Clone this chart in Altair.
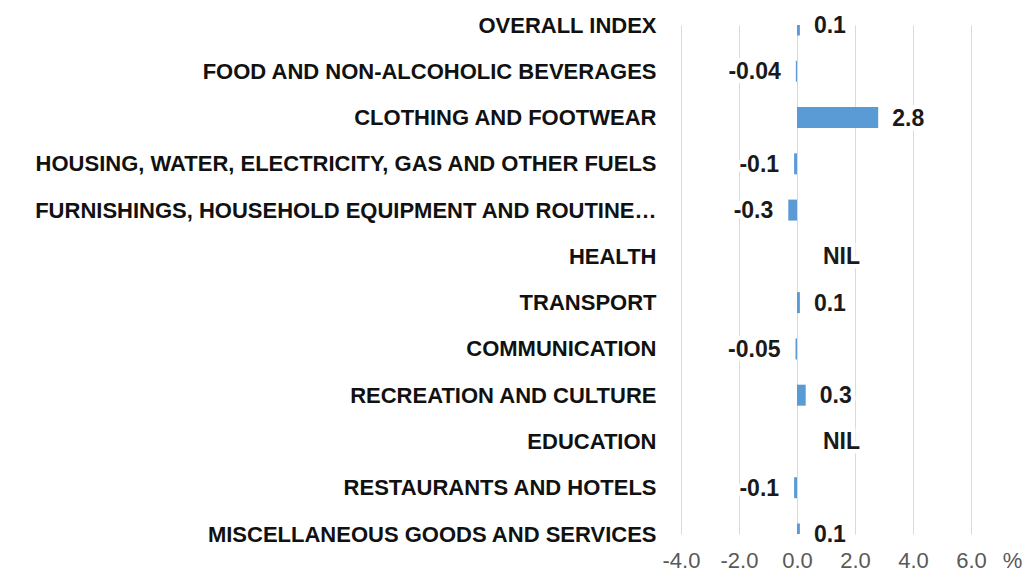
import altair as alt
import pandas as pd

categories = [
    "OVERALL INDEX",
    "FOOD AND NON-ALCOHOLIC BEVERAGES",
    "CLOTHING AND FOOTWEAR",
    "HOUSING, WATER, ELECTRICITY, GAS AND OTHER FUELS",
    "FURNISHINGS, HOUSEHOLD EQUIPMENT AND ROUTINE…",
    "HEALTH",
    "TRANSPORT",
    "COMMUNICATION",
    "RECREATION AND CULTURE",
    "EDUCATION",
    "RESTAURANTS AND HOTELS",
    "MISCELLANEOUS GOODS AND SERVICES",
]
values = [0.1, -0.04, 2.8, -0.1, -0.3, 0.0, 0.1, -0.05, 0.3, 0.0, -0.1, 0.1]
labels = ["0.1", "-0.04", "2.8", "-0.1", "-0.3", "NIL", "0.1", "-0.05", "0.3", "NIL", "-0.1", "0.1"]
x_ticks = [-4, -2, 0, 2, 4, 6]

df = pd.DataFrame({"cat": categories, "value": values, "label": labels})

FONT = "Liberation Sans"
BAR = "#5B9BD5"

y_enc = alt.Y(
    "cat:N",
    sort=categories,
    scale=alt.Scale(type="point", padding=0),
    axis=alt.Axis(
        title=None, domain=False, ticks=False, grid=False,
        labelFont=FONT, labelFontSize=22, labelFontWeight="bold",
        labelColor="#111111", labelPadding=25, labelLimit=800,
    ),
)
x_enc = alt.X(
    "value:Q",
    scale=alt.Scale(domain=[-4, 6], nice=False, zero=False),
    axis=alt.Axis(
        values=x_ticks, domain=False, ticks=False, grid=True,
        gridColor="#D9D9D9", gridWidth=1,
        labelExpr="(datum.value < 0 ? '-' : '') + format(abs(datum.value), '.1f')",
        labelFont=FONT, labelFontSize=22, labelColor="#595959", labelPadding=16,
        labelFlush=False, labelOverlap=False,
        title="%", titleFont=FONT, titleFontSize=22, titleFontWeight="normal",
        titleColor="#595959", titleX=331, titleY=16, titleAlign="center",
        titleBaseline="top", titleAngle=0,
    ),
)

base = alt.Chart(df)

bars = base.mark_bar(color=BAR, size=21, clip=True).encode(x=x_enc, y=y_enc)


def label_layer(filt, align, dx, halo):
    kw = dict(align=align, baseline="middle", dx=dx, dy=1, font=FONT,
              fontSize=23, fontWeight="bold")
    if halo:
        kw.update(stroke="white", strokeWidth=9, color="white")
    else:
        kw.update(color="#1a1a1a")
    return base.transform_filter(filt).mark_text(**kw).encode(
        x=alt.X("value:Q"), y=alt.Y("cat:N", sort=categories), text="label:N"
    )


layers = [bars]
for halo in (True, False):
    layers.append(label_layer("datum.value > 0", "left", 14, halo))
    layers.append(label_layer("datum.value < 0", "right", -15, halo))
    layers.append(label_layer("datum.label == 'NIL'", "left", 26, halo))

chart = alt.layer(*layers).properties(
    width=290,
    height=509,
    padding={"left": 681, "top": 25, "right": 59, "bottom": 39},
    autosize="none",
    background="white",
).configure_view(stroke=None)

chart.save("out.html", embed_options={"renderer": "svg", "actions": False})
